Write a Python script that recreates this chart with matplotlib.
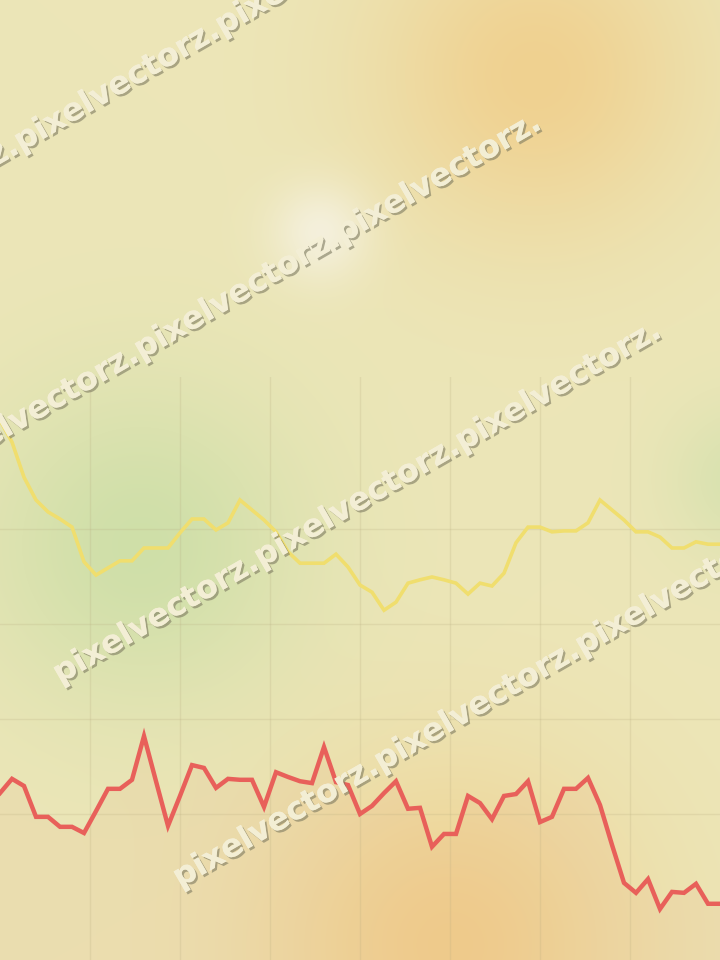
import numpy as np
import matplotlib
matplotlib.use('Agg')
import matplotlib.pyplot as plt
import matplotlib.patheffects as pe

# series values, one point per step
red_vals = [44.4, 47.4, 45.9, 39.4, 39.4, 37.3, 37.3, 36.0, 40.6, 45.3,
            45.3, 47.2, 56.4, 46.9, 37.5, 43.8, 50.3, 49.7, 45.5, 47.4,
            47.2, 47.2, 41.5, 48.8, 47.8, 46.9, 46.5, 54.1, 46.7, 46.1,
            40.0, 41.7, 44.4, 46.9, 41.1, 41.3, 33.1, 35.8, 35.8, 43.8,
            42.3, 38.9, 43.8, 44.2, 46.9, 38.3, 39.4, 45.3, 45.3, 47.6,
            41.9, 33.5, 25.5, 23.4, 26.3, 20.0, 23.6, 23.4, 25.3, 21.1, 21.1]
yellow_vals = [122.9, 118.3, 110.9, 106.1, 103.6, 102.1, 100.4, 93.1, 90.3, 91.8,
               93.3, 93.3, 96.0, 96.0, 96.0, 99.2, 102.1, 102.1, 99.8, 101.3,
               106.1, 104.0, 101.9, 99.4, 95.2, 92.8, 92.8, 92.8, 94.7, 92.0,
               88.2, 86.7, 82.9, 84.6, 88.6, 89.3, 89.9, 89.3, 88.6, 86.3,
               88.6, 88.0, 90.7, 97.1, 100.4, 100.4, 99.4, 99.6, 99.6, 101.3,
               106.1, 104.0, 101.9, 99.4, 99.4, 98.3, 96.0, 96.0, 97.3, 96.8, 96.8]
x_idx = np.arange(len(red_vals))
y_grid = [40, 60, 80, 100]
x_grid = [7.5, 15, 22.5, 30, 37.5, 45, 52.5]
watermark = "pixelvectorz.pixelvectorz.pixelvectorz."

W, H = 720, 960
fig = plt.figure(figsize=(7.2, 9.6), dpi=100)

# soft blotchy background
yy, xx = np.mgrid[0:H, 0:W]
img = np.ones((H, W, 3)) * np.array([236, 230, 184]) / 255.0
blobs = [
    ((535, 75), 115, (240, 208, 142), 0.95),
    ((450, 945), 130, (240, 207, 140), 0.9),
    ((140, 545), 115, (202, 222, 166), 0.85),
    ((745, 480), 55, (208, 224, 172), 0.7),
    ((320, 232), 35, (246, 242, 226), 0.85),
]
for (cx, cy), s, col, k in blobs:
    w = k * np.exp(-((xx - cx) ** 2 + (yy - cy) ** 2) / (2 * s * s))
    img = img * (1 - w[..., None]) + (np.array(col) / 255.0) * w[..., None]

bg = fig.add_axes([0, 0, 1, 1], zorder=0)
bg.imshow(img, extent=(0, W, H, 0), aspect='auto')
bg.set_xlim(0, W)
bg.set_ylim(H, 0)
bg.axis('off')

top = 377
ax = fig.add_axes([0, 0, 1, (H - top) / H], zorder=1)
ax.patch.set_alpha(0)
ax.set_xlim(0, len(red_vals) - 1)
ax.set_ylim(100 - (H - 529) / 4.75, 100 + (529 - top) / 4.75)
ax.set_xticks(x_grid)
ax.set_yticks(y_grid)
ax.grid(True, color='#b8ac80', lw=1, alpha=0.22)
ax.tick_params(length=0, labelbottom=False, labelleft=False)
for s in ax.spines.values():
    s.set_visible(False)

ymin = ax.get_ylim()[0]
ax.fill_between(x_idx, red_vals, ymin, color='#e8805a', alpha=0.08, lw=0)
ax.plot(x_idx, yellow_vals, color='#f0de6e', lw=2.6, solid_joinstyle='miter')
ax.plot(x_idx, red_vals, color='#e8605a', lw=3.2, solid_joinstyle='miter')

# diagonal watermark rows
starts = [(180, 888), (60, 684), (-60, 476), (-180, 268)]
for sx, sy in starts:
    fig.text(sx / W, 1 - sy / H, watermark, rotation=30, rotation_mode='anchor',
             ha='left', va='baseline', fontsize=23, fontweight='bold',
             color='#f4efd6', alpha=0.9, zorder=5,
             path_effects=[pe.withSimplePatchShadow(offset=(1.5, -1.5),
                                                     shadow_rgbFace='#7d7a60',
                                                     alpha=0.6),
                           pe.Normal()])

fig.savefig('out.png', dpi=100)
